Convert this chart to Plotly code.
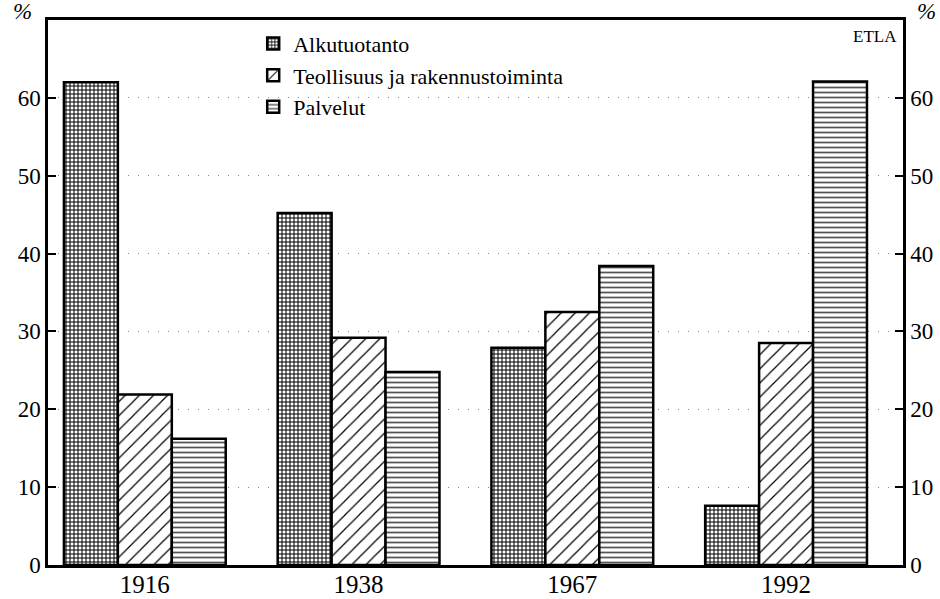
import plotly.graph_objects as go

years = ["1916", "1938", "1967", "1992"]
alkutuotanto = [62.0, 45.2, 27.9, 7.6]
teollisuus = [21.9, 29.2, 32.5, 28.5]
palvelut = [16.2, 24.8, 38.4, 62.1]
tick_vals = [0, 10, 20, 30, 40, 50, 60]

font = "Liberation Serif, Times New Roman, serif"
outline = dict(color="black", width=2.5)

fig = go.Figure()
fig.add_trace(go.Bar(
    x=years, y=alkutuotanto, name="Alkutuotanto",
    marker=dict(color="white", line=outline,
                pattern=dict(shape="+", size=4, solidity=0.45, fgcolor="black", bgcolor="white")),
))
fig.add_trace(go.Bar(
    x=years, y=teollisuus, name="Teollisuus ja rakennustoiminta",
    marker=dict(color="white", line=outline,
                pattern=dict(shape="/", size=10, solidity=0.12, fgcolor="black", bgcolor="white")),
))
fig.add_trace(go.Bar(
    x=years, y=palvelut, name="Palvelut",
    marker=dict(color="white", line=outline,
                pattern=dict(shape="-", size=5, solidity=0.35, fgcolor="#555", bgcolor="white")),
))
# empty trace so the right axis gets drawn
fig.add_trace(go.Scatter(x=[], y=[], yaxis="y2", showlegend=False))

ytick_font = dict(family=font, size=23, color="black")
xtick_font = dict(family=font, size=25, color="black")

fig.update_layout(
    template="none",
    width=940, height=599,
    margin=dict(l=48, r=37, t=20, b=34),
    plot_bgcolor="white", paper_bgcolor="white",
    barmode="group", bargap=0.243, bargroupgap=0,
    font=dict(family=font, color="black"),
    xaxis=dict(type="category", range=[-0.453, 3.547], showline=True, linecolor="black",
               linewidth=2.5, mirror=True, ticks="", tickfont=xtick_font, showgrid=False,
               automargin=False, ticklabelstandoff=-5),
    yaxis=dict(range=[0, 70], tickvals=tick_vals, showline=True, linecolor="black",
               linewidth=2.5, ticks="inside", ticklen=8, tickwidth=2, tickcolor="black",
               tickfont=ytick_font, showgrid=True, gridcolor="#888", griddash="1px,9px",
               gridwidth=1, zeroline=False, automargin=False),
    yaxis2=dict(range=[0, 70], tickvals=tick_vals, overlaying="y", side="right",
                showline=True, linecolor="black", linewidth=2.5, ticks="inside",
                ticklen=8, tickwidth=2, tickcolor="black", tickfont=ytick_font,
                showgrid=False, zeroline=False, automargin=False),
    legend=dict(x=0.24, y=0.995, xanchor="left", yanchor="top", bgcolor="rgba(0,0,0,0)",
                font=dict(family=font, size=22, color="black"), tracegroupgap=0,
                itemwidth=30),
    showlegend=True,
)

fig.add_annotation(text="<i>%</i>", xref="paper", yref="paper", x=-0.03, y=1.015,
                   xanchor="center", yanchor="middle", showarrow=False,
                   font=dict(family=font, size=23, color="black"))
fig.add_annotation(text="<i>%</i>", xref="paper", yref="paper", x=1.027, y=1.015,
                   xanchor="center", yanchor="middle", showarrow=False,
                   font=dict(family=font, size=23, color="black"))
fig.add_annotation(text="ETLA", xref="paper", yref="paper", x=0.995, y=0.99,
                   xanchor="right", yanchor="top", showarrow=False,
                   font=dict(family=font, size=17, color="black"))

fig.write_html("out.html", config={"displayModeBar": False},
               post_script="document.body.style.margin='0';")
